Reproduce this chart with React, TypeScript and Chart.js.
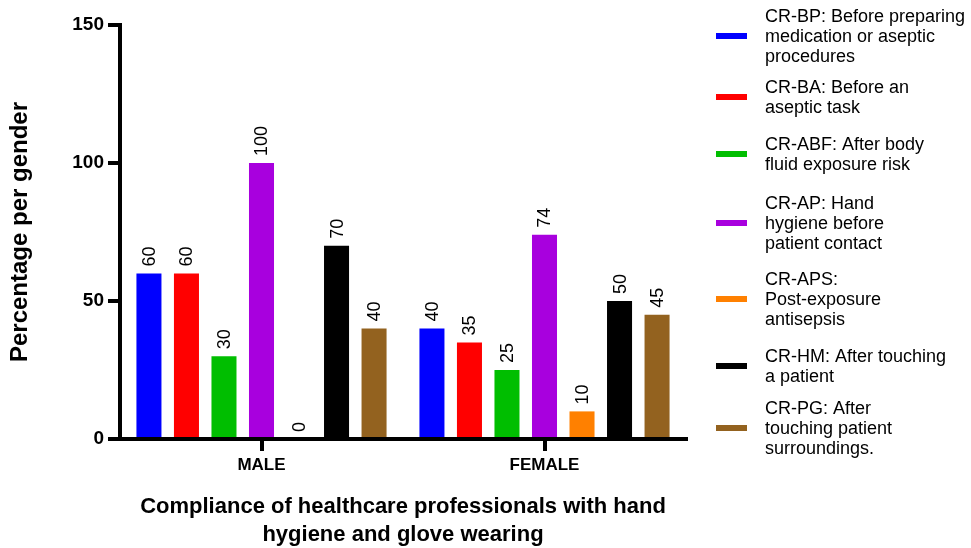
import React, { useEffect, useRef } from "react";
import { Chart, registerables } from "chart.js";

Chart.register(...registerables);

const FONT = "'Liberation Sans', Arial, Helvetica, sans-serif";

// Gender groups on the x axis
const categories = ["MALE", "FEMALE"];

// Compliance (%) per category, one array per indicator
const bpValues = [60, 40];
const baValues = [60, 35];
const abfValues = [30, 25];
const apValues = [100, 74];
const apsValues = [0, 10];
const hmValues = [70, 50];
const pgValues = [40, 45];

const seriesNames = ["CR-BP", "CR-BA", "CR-ABF", "CR-AP", "CR-APS", "CR-HM", "CR-PG"];
const seriesValues = [bpValues, baValues, abfValues, apValues, apsValues, hmValues, pgValues];
const seriesColors = ["#0000FF", "#FF0000", "#00BE00", "#A800DE", "#FF8000", "#000000", "#93621F"];

// Legend text, one list of wrapped lines per indicator
const legendLines = [
  ["CR-BP: Before preparing", "medication or aseptic", "procedures"],
  ["CR-BA: Before an", "aseptic task"],
  ["CR-ABF: After body", "fluid exposure risk"],
  ["CR-AP: Hand", "hygiene before", "patient contact"],
  ["CR-APS:", "Post-exposure", "antisepsis"],
  ["CR-HM: After touching", "a patient"],
  ["CR-PG: After", "touching patient", "surroundings."],
];

const yMin = 0;
const yMax = 150;
const yStep = 50;
const yTitle = "Percentage per gender";
const xTitle = ["Compliance of healthcare professionals with hand", "hygiene and glove wearing"];

// Legend placement (first-line centre of each entry)
const legendLayout = {
  entryTops: [17, 88, 145, 204, 280, 357, 409],
  lineGap: 20,
  textX: 765,
  swatchX: 716,
  swatchW: 31,
  swatchH: 6,
};

const valueLabelPlugin = {
  id: "valueLabels",
  afterDatasetsDraw(chart: any) {
    const ctx = chart.ctx;
    ctx.save();
    ctx.font = `18px ${FONT}`;
    ctx.fillStyle = "#000";
    chart.data.datasets.forEach((ds: any, i: number) => {
      const meta = chart.getDatasetMeta(i);
      meta.data.forEach((bar: any, j: number) => {
        ctx.save();
        ctx.translate(bar.x, bar.y - 7);
        ctx.rotate(-Math.PI / 2);
        ctx.textAlign = "left";
        ctx.textBaseline = "middle";
        ctx.fillText(String(ds.data[j]), 0, 1);
        ctx.restore();
      });
    });
    ctx.restore();
  },
};

const sideLegendPlugin = {
  id: "sideLegend",
  afterDraw(chart: any) {
    const ctx = chart.ctx;
    const L = legendLayout;
    ctx.save();
    ctx.font = `18px ${FONT}`;
    ctx.fillStyle = "#000";
    ctx.textAlign = "left";
    ctx.textBaseline = "middle";
    legendLines.forEach((lines, i) => {
      const top = L.entryTops[i];
      lines.forEach((line, k) => {
        ctx.fillText(line, L.textX, top + k * L.lineGap);
      });
      const mid = top + ((lines.length - 1) * L.lineGap) / 2;
      ctx.fillStyle = seriesColors[i];
      ctx.fillRect(L.swatchX, mid - L.swatchH / 2 - 1, L.swatchW, L.swatchH);
      ctx.fillStyle = "#000";
    });
    ctx.restore();
  },
};

export default function App() {
  const canvasRef = useRef<HTMLCanvasElement | null>(null);

  useEffect(() => {
    if (!canvasRef.current) return;
    const chart = new Chart(canvasRef.current, {
      type: "bar",
      data: {
        labels: categories,
        datasets: seriesNames.map((name, i) => ({
          label: name,
          data: seriesValues[i],
          backgroundColor: seriesColors[i],
          borderWidth: 0,
          categoryPercentage: 0.928,
          barPercentage: 0.667,
        })),
      },
      options: {
        animation: false,
        responsive: false,
        devicePixelRatio: 1,
        layout: { padding: { top: 25, right: 285, left: 0, bottom: 0 } },
        plugins: {
          legend: { display: false },
          tooltip: { enabled: false },
        },
        scales: {
          x: {
            type: "category",
            offset: true,
            z: 1,
            border: { display: true, color: "#000", width: 4 },
            grid: {
              display: true,
              drawOnChartArea: false,
              drawTicks: true,
              tickLength: 12,
              lineWidth: 4,
              tickWidth: 4,
              tickColor: "#000",
              color: "#000",
              offset: false,
            },
            ticks: {
              color: "#000",
              font: { family: FONT, size: 17, weight: "bold" },
              padding: 4,
              maxRotation: 0,
            },
            title: {
              display: true,
              text: xTitle,
              color: "#000",
              font: { family: FONT, size: 22, weight: "bold", lineHeight: 1.23 },
              padding: { top: 0, bottom: 0 },
            },
            afterFit: (s: any) => {
              s.height = 109;
            },
          },
          y: {
            min: yMin,
            max: yMax,
            z: 1,
            border: { display: true, color: "#000", width: 4 },
            grid: {
              display: true,
              drawOnChartArea: false,
              drawTicks: true,
              tickLength: 12,
              lineWidth: 4,
              tickWidth: 4,
              tickColor: "#000",
              color: "#000",
            },
            ticks: {
              stepSize: yStep,
              color: "#000",
              font: { family: FONT, size: 19, weight: "bold" },
              padding: 4,
            },
            title: {
              display: true,
              text: yTitle,
              color: "#000",
              font: { family: FONT, size: 24, weight: "bold" },
              padding: { top: 6, bottom: 0 },
            },
            afterFit: (s: any) => {
              s.width = 120;
            },
          },
        },
      } as any,
      plugins: [valueLabelPlugin, sideLegendPlugin],
    });
    return () => chart.destroy();
  }, []);

  return (
    <div style={{ position: "fixed", left: 0, top: 0, width: 971, height: 548, background: "#fff" }}>
      <canvas ref={canvasRef} width={971} height={548} style={{ display: "block" }} />
    </div>
  );
}
